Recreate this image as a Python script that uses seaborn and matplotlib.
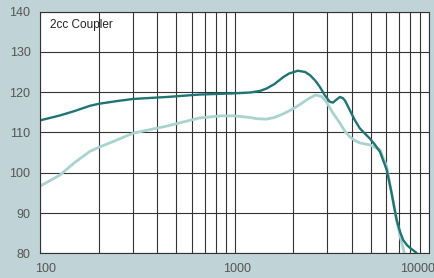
import pandas as pd
import matplotlib.pyplot as plt
import matplotlib.transforms as mtransforms
from matplotlib.ticker import NullFormatter
import seaborn as sns

# Frequency response (Hz, dB SPL)
freq_dark = [100, 126, 150, 180, 200, 250, 300, 450, 660, 1000, 1200, 1350,
             1460, 1600, 1775, 1900, 2110, 2300, 2440, 2600, 2740, 2900,
             3080, 3200, 3350, 3475, 3600, 3700, 3910, 4150, 4400, 4650,
             4950, 5250, 5585, 6050, 6410, 6800, 7100, 7350, 7700, 8000, 8610]
spl_dark = [113.0, 114.2, 115.3, 116.6, 117.1, 117.8, 118.3, 118.8, 119.4,
            119.7, 119.9, 120.3, 120.9, 122.0, 123.7, 124.6, 125.3, 125.0,
            124.2, 122.8, 121.3, 119.3, 117.6, 117.4, 118.2, 118.8, 118.5,
            117.8, 115.5, 113.0, 111.0, 109.8, 108.5, 107.0, 105.2, 100.7,
            94.9, 88.3, 85.2, 83.3, 82.0, 81.3, 80.1]

freq_light = [100, 126, 150, 180, 200, 250, 300, 450, 660, 850, 1000, 1200,
              1300, 1460, 1600, 1775, 1950, 2160, 2400, 2610, 2800, 2960,
              3200, 3475, 3700, 3910, 4150, 4400, 4950, 5585, 6050, 6410,
              6800, 7100, 7450]
spl_light = [96.7, 99.4, 102.5, 105.3, 106.3, 108.2, 109.8, 111.6, 113.6,
             114.1, 114.1, 113.7, 113.4, 113.3, 113.7, 114.6, 115.6, 116.9,
             118.4, 119.3, 118.9, 117.6, 114.8, 112.3, 110.2, 108.9, 108.0,
             107.4, 106.9, 105.7, 101.5, 94.9, 88.3, 84.1, 80.1]

x_ticks = [100, 1000, 10000]
x_labels = ["100", "1000", "10000"]
y_ticks = [80, 90, 100, 110, 120, 130, 140]
label_text = "2cc Coupler"

sns.set_style("white")
plt.rcParams["font.family"] = ["Liberation Sans", "DejaVu Sans"]

dark = pd.DataFrame({"freq": freq_dark, "spl": spl_dark})
light = pd.DataFrame({"freq": freq_light, "spl": spl_light})

fig = plt.figure(figsize=(4.35, 2.78), dpi=100, facecolor="#c0d3d7")
ax = fig.add_axes([0.0926, 0.0888, 0.894, 0.8698])
ax.set_facecolor("white")

sns.lineplot(data=light, x="freq", y="spl", color="#a9d3cf", lw=2.0, ax=ax)
sns.lineplot(data=dark, x="freq", y="spl", color="#1e7573", lw=1.7, ax=ax)

ax.set_xscale("log")
ax.set_xlim(100, 10000)
ax.set_ylim(80, 140)
ax.set_xticks(x_ticks, x_labels)
ax.set_yticks(y_ticks)
ax.xaxis.set_minor_formatter(NullFormatter())
ax.grid(which="both", color="#333333", lw=0.8)
ax.tick_params(which="both", length=0, labelsize=9, labelcolor="#555555")
ax.tick_params(axis="x", pad=7)
ax.tick_params(axis="y", pad=7)
ax.set_xlabel("")
ax.set_ylabel("")
for s in ax.spines.values():
    s.set_color("#333333")
    s.set_linewidth(0.8)

# labels in the original sit a bit off-centre
for lab, dx in zip(ax.get_xticklabels(), [5, 2, -12]):
    lab.set_transform(lab.get_transform() +
                      mtransforms.ScaledTranslation(dx / 100, 0, fig.dpi_scale_trans))

ax.text(0.025, 0.9305, label_text, transform=ax.transAxes, fontsize=8.5,
        color="#222222", va="baseline")

fig.savefig("out.png", dpi=100, facecolor=fig.get_facecolor())
